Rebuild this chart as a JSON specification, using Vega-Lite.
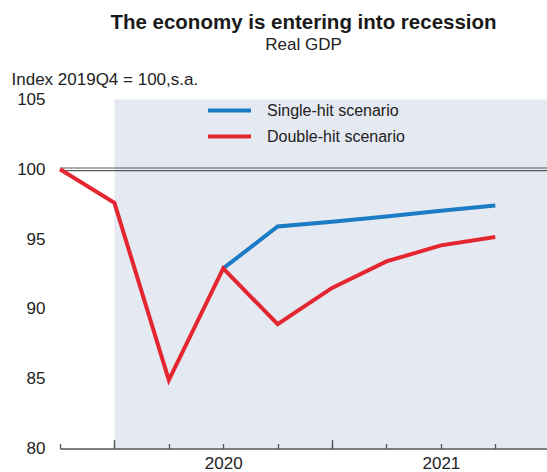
{
  "$schema": "https://vega.github.io/schema/vega-lite/v6.json",
  "autosize": {"type": "none"},
  "width": 487,
  "height": 349,
  "padding": {"left": 60, "top": 99.5, "right": 0, "bottom": 23.5},
  "background": "white",
  "title": {
    "text": "The economy is entering into recession",
    "subtitle": "Real GDP",
    "anchor": "middle",
    "frame": "group",
    "font": "Liberation Sans",
    "fontSize": 20.5,
    "fontWeight": "bold",
    "color": "#1a1a1a",
    "subtitleFont": "Liberation Sans",
    "subtitleFontSize": 17,
    "subtitleColor": "#222222",
    "subtitlePadding": 4,
    "offset": 17
  },
  "config": {
    "view": {"stroke": null},
    "font": "Liberation Sans"
  },
  "resolve": {"axis": {"x": "independent"}},
  "datasets": {
    "shade": [{"start": 1, "end": 8.95, "low": 80, "high": 105}],
    "grid": [{"level": 85}, {"level": 90}, {"level": 95}, {"level": 105}],
    "ref": [{"level": 100}],
    "gdp": [
      {"quarter": "2019Q4", "t": 0, "value": 100, "scenario": "Double-hit scenario"},
      {"quarter": "2020Q1", "t": 1, "value": 97.6, "scenario": "Double-hit scenario"},
      {"quarter": "2020Q2", "t": 2, "value": 84.9, "scenario": "Double-hit scenario"},
      {"quarter": "2020Q3", "t": 3, "value": 92.9, "scenario": "Double-hit scenario"},
      {"quarter": "2020Q4", "t": 4, "value": 88.9, "scenario": "Double-hit scenario"},
      {"quarter": "2021Q1", "t": 5, "value": 91.5, "scenario": "Double-hit scenario"},
      {"quarter": "2021Q2", "t": 6, "value": 93.4, "scenario": "Double-hit scenario"},
      {"quarter": "2021Q3", "t": 7, "value": 94.55, "scenario": "Double-hit scenario"},
      {"quarter": "2021Q4", "t": 8, "value": 95.15, "scenario": "Double-hit scenario"},
      {"quarter": "2020Q3", "t": 3, "value": 92.9, "scenario": "Single-hit scenario"},
      {"quarter": "2020Q4", "t": 4, "value": 95.9, "scenario": "Single-hit scenario"},
      {"quarter": "2021Q1", "t": 5, "value": 96.25, "scenario": "Single-hit scenario"},
      {"quarter": "2021Q2", "t": 6, "value": 96.62, "scenario": "Single-hit scenario"},
      {"quarter": "2021Q3", "t": 7, "value": 97.03, "scenario": "Single-hit scenario"},
      {"quarter": "2021Q4", "t": 8, "value": 97.4, "scenario": "Single-hit scenario"}
    ]
  },
  "layer": [
    {
      "data": {"name": "shade"},
      "mark": {"type": "rect", "color": "#e5e9f2"},
      "encoding": {
        "x": {
          "field": "start", "type": "quantitative",
          "scale": {"domain": [0, 8.95], "nice": false, "zero": false},
          "axis": {
            "title": null,
            "orient": "bottom",
            "zindex": 1,
            "values": [0, 1, 2, 3, 4, 5, 6, 7, 8],
            "labelExpr": "datum.value == 3 ? '2020' : (datum.value == 7 ? '2021' : '')",
            "grid": false,
            "domainColor": "#555555",
            "domainWidth": 1.5,
            "tickColor": "#555555",
            "tickWidth": 1.3,
            "tickSize": -5,
            "labelFontSize": 17,
            "labelColor": "#222222",
            "labelPadding": 12,
            "labelOverlap": false,
            "labelFlush": false,
            "labelBound": false
          }
        },
        "x2": {"field": "end"},
        "y": {
          "field": "low", "type": "quantitative",
          "scale": {"domain": [80, 105], "nice": false, "zero": false},
          "axis": {
            "title": "Index 2019Q4 = 100,s.a.",
            "titleAngle": 0,
            "titleAlign": "left",
            "titleBaseline": "alphabetic",
            "titleX": -49,
            "titleY": -15.5,
            "titleFontSize": 17,
            "titleFontWeight": "normal",
            "titleColor": "#222222",
            "values": [80, 85, 90, 95, 100, 105],
            "grid": false,
            "domain": false,
            "ticks": false,
            "labelFontSize": 17,
            "labelColor": "#222222",
            "labelPadding": 15
          }
        },
        "y2": {"field": "high"}
      }
    },
    {
      "data": {"name": "grid"},
      "mark": {"type": "rule", "color": "#d3d3d3", "strokeWidth": 1},
      "encoding": {
        "y": {"field": "level", "type": "quantitative"},
        "x": {
          "field": "level", "type": "quantitative",
          "axis": {
            "title": null,
            "orient": "bottom",
            "zindex": 1,
            "values": [1, 5],
            "labels": false,
            "domain": false,
            "grid": false,
            "tickColor": "#555555",
            "tickWidth": 1.3,
            "tickSize": -9
          }
        },
        "x2": {"field": "level"}
      }
    },
    {
      "data": {"name": "ref"},
      "mark": {"type": "rule", "color": "#5a5a5a", "strokeWidth": 1.2, "yOffset": -1.3},
      "encoding": {"y": {"field": "level", "type": "quantitative"}}
    },
    {
      "data": {"name": "ref"},
      "mark": {"type": "rule", "color": "#5a5a5a", "strokeWidth": 1.2, "yOffset": 1.3},
      "encoding": {"y": {"field": "level", "type": "quantitative"}}
    },
    {
      "data": {"name": "gdp"},
      "transform": [{"filter": "datum.scenario == 'Single-hit scenario'"}],
      "mark": {"type": "line", "strokeWidth": 4},
      "encoding": {
        "x": {"field": "t", "type": "quantitative", "axis": null},
        "y": {"field": "value", "type": "quantitative"},
        "color": {
          "field": "scenario", "type": "nominal",
          "scale": {"domain": ["Single-hit scenario", "Double-hit scenario"], "range": ["#1b7bc4", "#e3262f"]},
          "legend": {
            "title": null,
            "orient": "none",
            "legendX": 146,
            "legendY": -2,
            "padding": 0,
            "symbolType": "stroke",
            "symbolSize": 1849,
            "symbolStrokeWidth": 4,
            "labelFontSize": 16,
            "labelColor": "#222222",
            "labelOffset": 14,
            "clipHeight": 26,
            "rowPadding": 0
          }
        }
      }
    },
    {
      "data": {"name": "gdp"},
      "transform": [{"filter": "datum.scenario == 'Double-hit scenario'"}],
      "mark": {"type": "line", "strokeWidth": 4},
      "encoding": {
        "x": {"field": "t", "type": "quantitative", "axis": null},
        "y": {"field": "value", "type": "quantitative"},
        "color": {"field": "scenario", "type": "nominal"}
      }
    }
  ]
}
